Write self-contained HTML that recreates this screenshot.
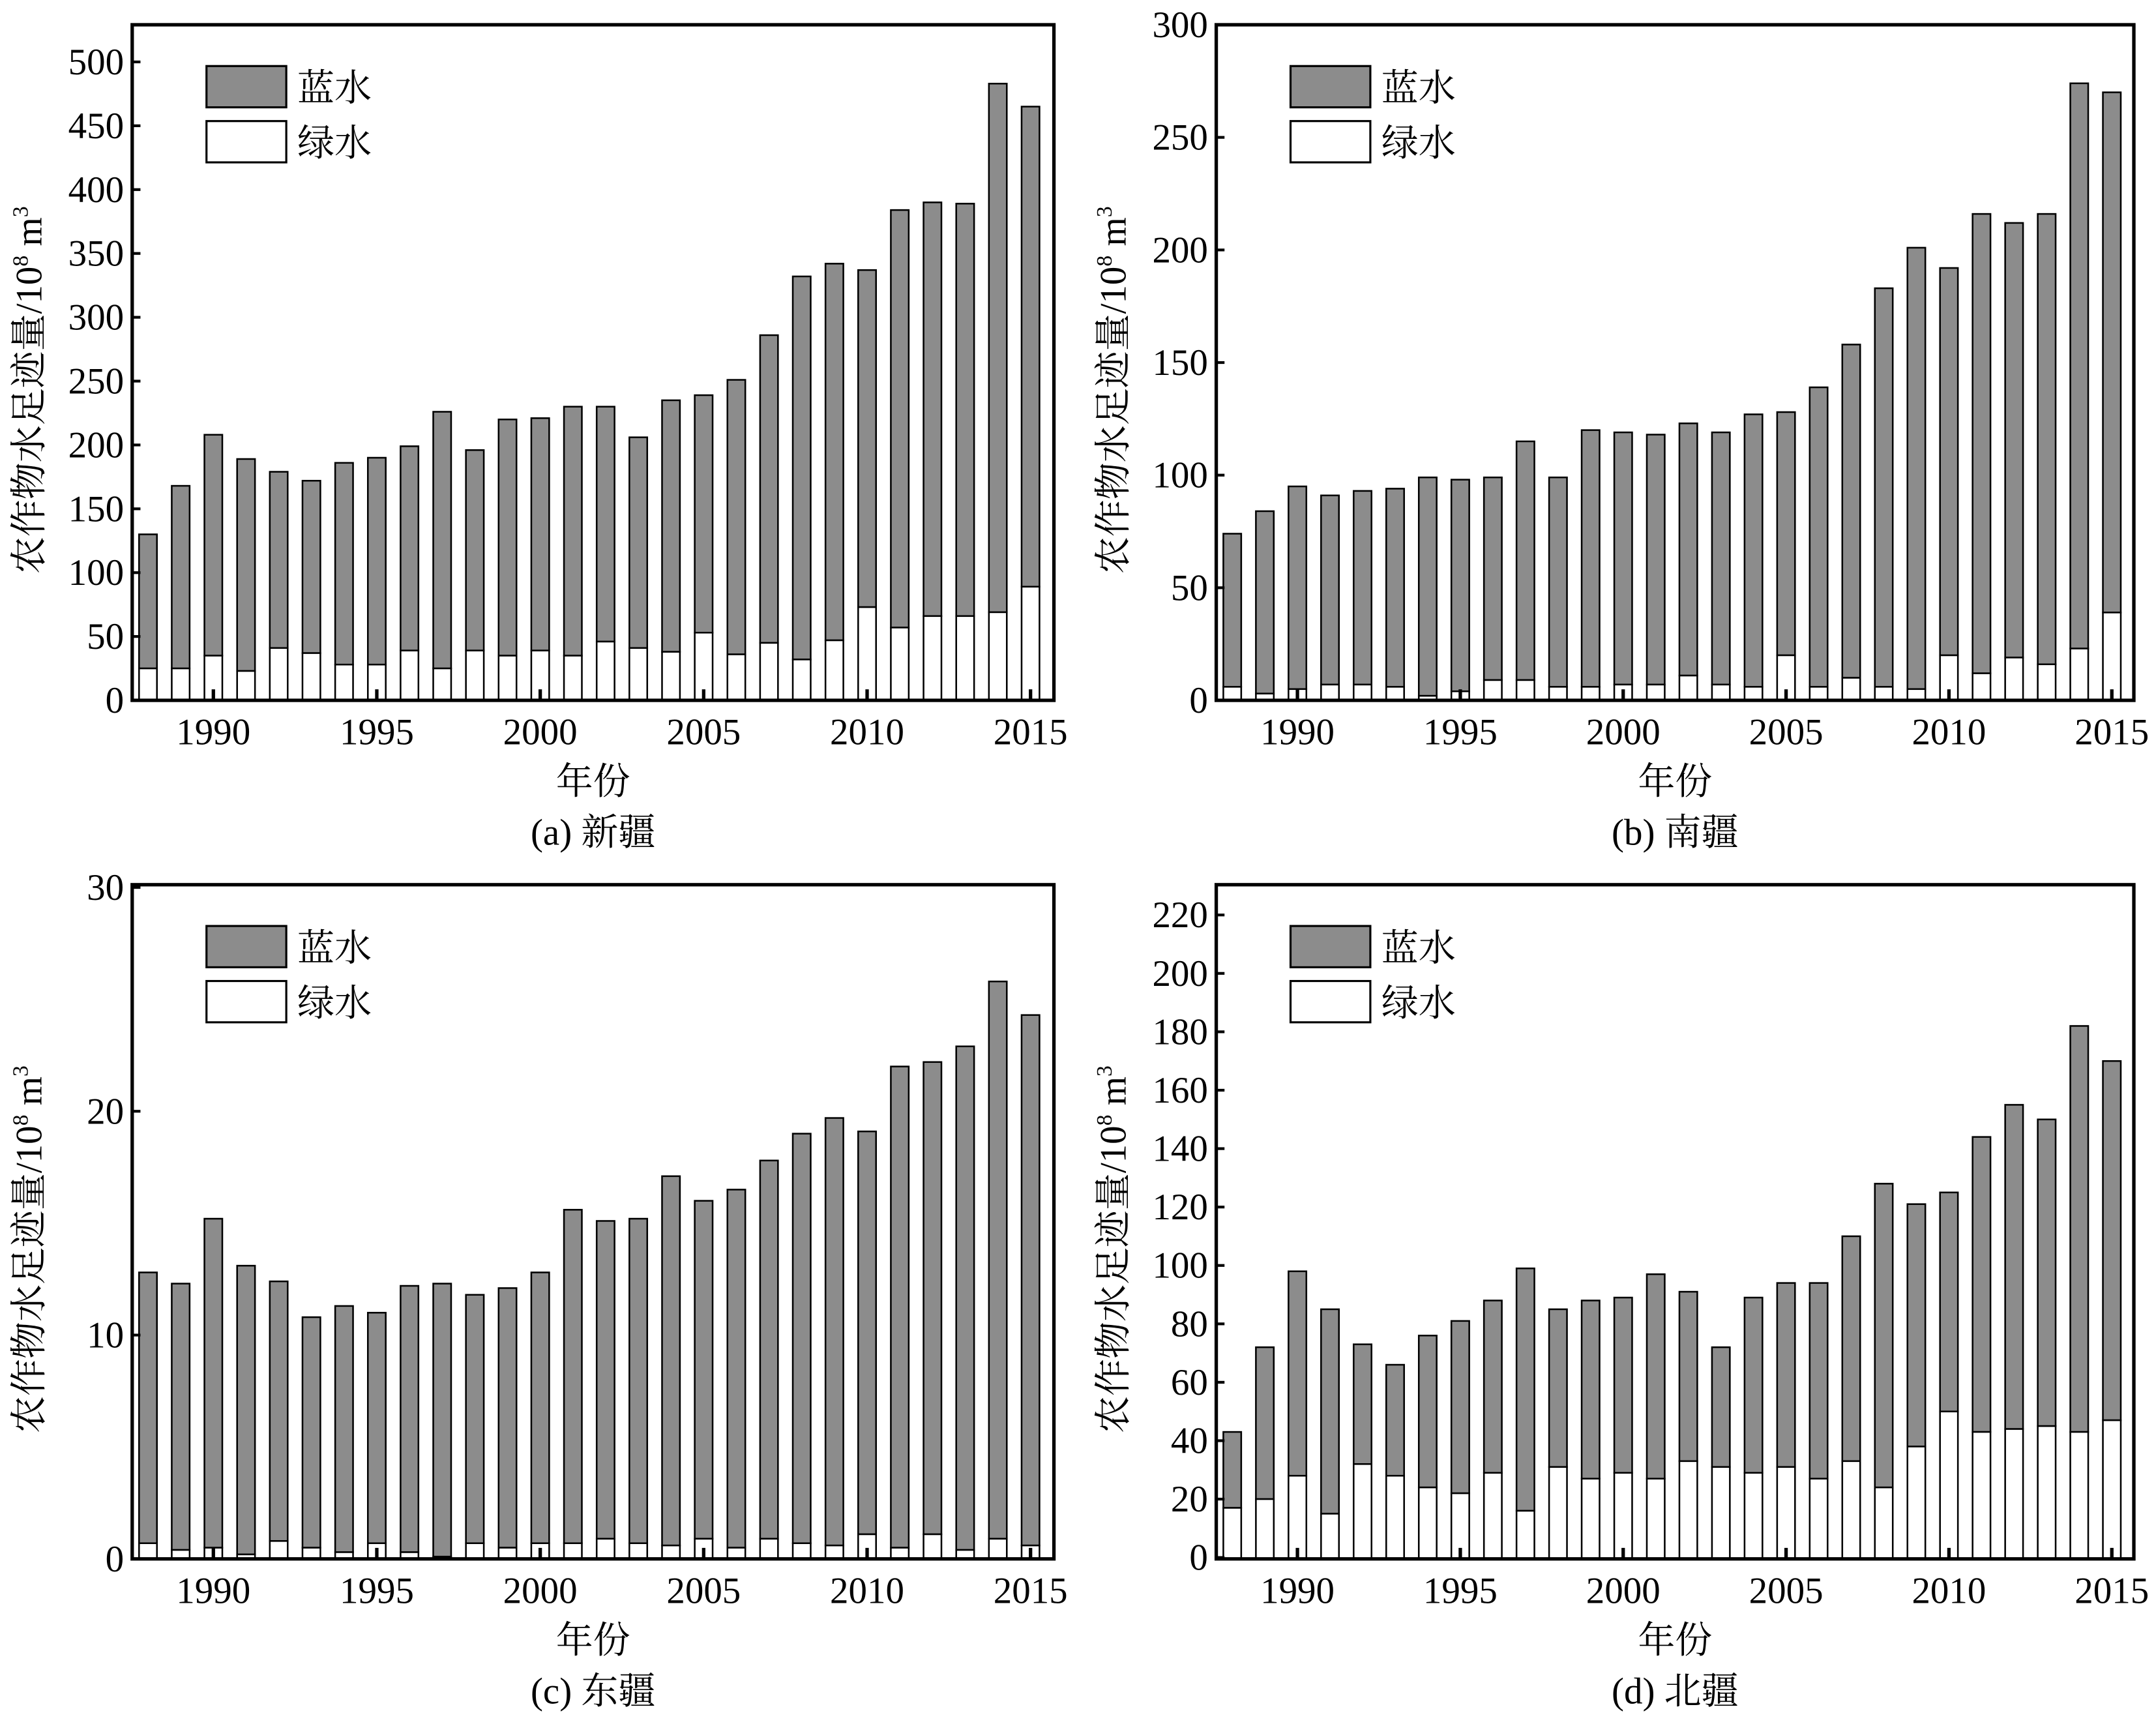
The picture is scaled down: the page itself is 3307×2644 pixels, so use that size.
<!DOCTYPE html>
<html><head><meta charset="utf-8"><style>
html,body{margin:0;padding:0;background:#fff}
svg{display:block}
text{font-family:"Liberation Serif","Noto Serif CJK SC","Noto Sans CJK SC",serif;fill:#000}
</style></head><body>
<svg id="s" width="3307" height="2644" viewBox="0 0 1567 1253" xmlns="http://www.w3.org/2000/svg"></svg>
<script>
const P=[
 {x0:96,x1:766,y0:18,y1:509,yv0:509,yscale:(509-45)/500,lab:"(a) 新疆",
  d:[[130,25],[168,25],[208,35],[189,23],[179,41],[172,37],[186,28],[190,28],[199,39],[226,25],[196,39],[220,35],[221,39],[230,35],[230,46],[206,41],[235,38],[239,53],[251,36],[286,45],[332,32],[342,47],[337,73],[384,57],[390,66],[389,66],[483,69],[465,89]],ticks:[0,50,100,150,200,250,300,350,400,450,500],y1990:155,y2015:749},
 {x0:884,x1:1551,y0:18,y1:509,yv0:509,yscale:(509-18)/300,lab:"(b) 南疆",
  d:[[74,6],[84,3],[95,5],[91,7],[93,7],[94,6],[99,2],[98,4],[99,9],[115,9],[99,6],[120,6],[119,7],[118,7],[123,11],[119,7],[127,6],[128,20],[139,6],[158,10],[183,6],[201,5],[192,20],[216,12],[212,19],[216,16],[274,23],[270,39]],ticks:[0,50,100,150,200,250,300],y1990:943,y2015:1535},
 {x0:96,x1:766,y0:643,y1:1133,yv0:1133,yscale:(1133-645)/30,lab:"(c) 东疆",
  d:[[12.8,.7],[12.3,.4],[15.2,.5],[13.1,.2],[12.4,.8],[10.8,.5],[11.3,.3],[11.0,.7],[12.2,.3],[12.3,.1],[11.8,.7],[12.1,.5],[12.8,.7],[15.6,.7],[15.1,.9],[15.2,.7],[17.1,.6],[16.0,.9],[16.5,.5],[17.8,.9],[19.0,.7],[19.7,.6],[19.1,1.1],[22.0,.5],[22.2,1.1],[22.9,.4],[25.8,.9],[24.3,.6]],ticks:[0,10,20,30],y1990:155,y2015:749},
 {x0:884,x1:1551,y0:643,y1:1133,yv0:1132,yscale:(1132-665)/220,lab:"(d) 北疆",
  d:[[43,17],[72,20],[98,28],[85,15],[73,32],[66,28],[76,24],[81,22],[88,29],[99,16],[85,31],[88,27],[89,29],[97,27],[91,33],[72,31],[89,29],[94,31],[94,27],[110,33],[128,24],[121,38],[125,50],[144,43],[155,44],[150,45],[182,43],[170,47]],ticks:[0,20,40,60,80,100,120,140,160,180,200,220],y1990:943,y2015:1535}
];
let h="";
for(const p of P){
 const xs=(p.y2015-p.y1990)/25, X=yr=>p.y1990+(yr-1990)*xs, Y=v=>p.yv0-v*p.yscale, bw=13;
 p.d.forEach((b,i)=>{const cx=X(1988+i);
  h+=`<rect x="${cx-bw/2}" y="${Y(b[0])}" width="${bw}" height="${Y(b[1])-Y(b[0])}" fill="#8c8c8c" stroke="#000" stroke-width="1.2"/>`;
  h+=`<rect x="${cx-bw/2}" y="${Y(b[1])}" width="${bw}" height="${p.y1-Y(b[1])}" fill="#fff" stroke="#000" stroke-width="1.2"/>`;});
 h+=`<rect x="${p.x0}" y="${p.y0}" width="${p.x1-p.x0}" height="${p.y1-p.y0}" fill="none" stroke="#000" stroke-width="2.5"/>`;
 for(const t of p.ticks){const y=Y(t);
  h+=`<line x1="${p.x0}" x2="${p.x0+6}" y1="${y}" y2="${y}" stroke="#000" stroke-width="2"/>`;
  h+=`<text x="${p.x0-6}" y="${y+9}" font-size="27" text-anchor="end">${t}</text>`;}
 for(let yr=1990;yr<=2015;yr+=5){const x=X(yr);
  h+=`<line x1="${x}" x2="${x}" y1="${p.y1}" y2="${p.y1-8}" stroke="#000" stroke-width="2.5"/>`;
  h+=`<text x="${x}" y="${p.y1+32}" font-size="27" text-anchor="middle">${yr}</text>`;}
 const cx=(p.x0+p.x1)/2;
 h+=`<text x="${cx}" y="${p.y1+68}" font-size="27" text-anchor="middle">年份</text>`;
 h+=`<text x="${cx}" y="${p.y1+105}" font-size="27" text-anchor="middle">${p.lab}</text>`;
 const lx=p.x0+54, ly=p.y0+30, ycy=(p.y0+p.y1)/2+20;
 h+=`<rect x="${lx}" y="${ly}" width="58" height="30" fill="#8c8c8c" stroke="#000" stroke-width="1.5"/>`;
 h+=`<rect x="${lx}" y="${ly+40}" width="58" height="30" fill="#fff" stroke="#000" stroke-width="1.5"/>`;
 h+=`<text x="${lx+66}" y="${ly+25}" font-size="27">蓝水</text><text x="${lx+66}" y="${ly+65}" font-size="27">绿水</text>`;
 h+=`<text transform="translate(${p.x0-66},${ycy}) rotate(-90)" font-size="27" text-anchor="middle">农作物水足迹量/10<tspan font-size="16" dy="-10">8</tspan><tspan dy="10"> m</tspan><tspan font-size="16" dy="-10">3</tspan></text>`;
}
document.getElementById("s").innerHTML=h;
</script>
</body></html>
